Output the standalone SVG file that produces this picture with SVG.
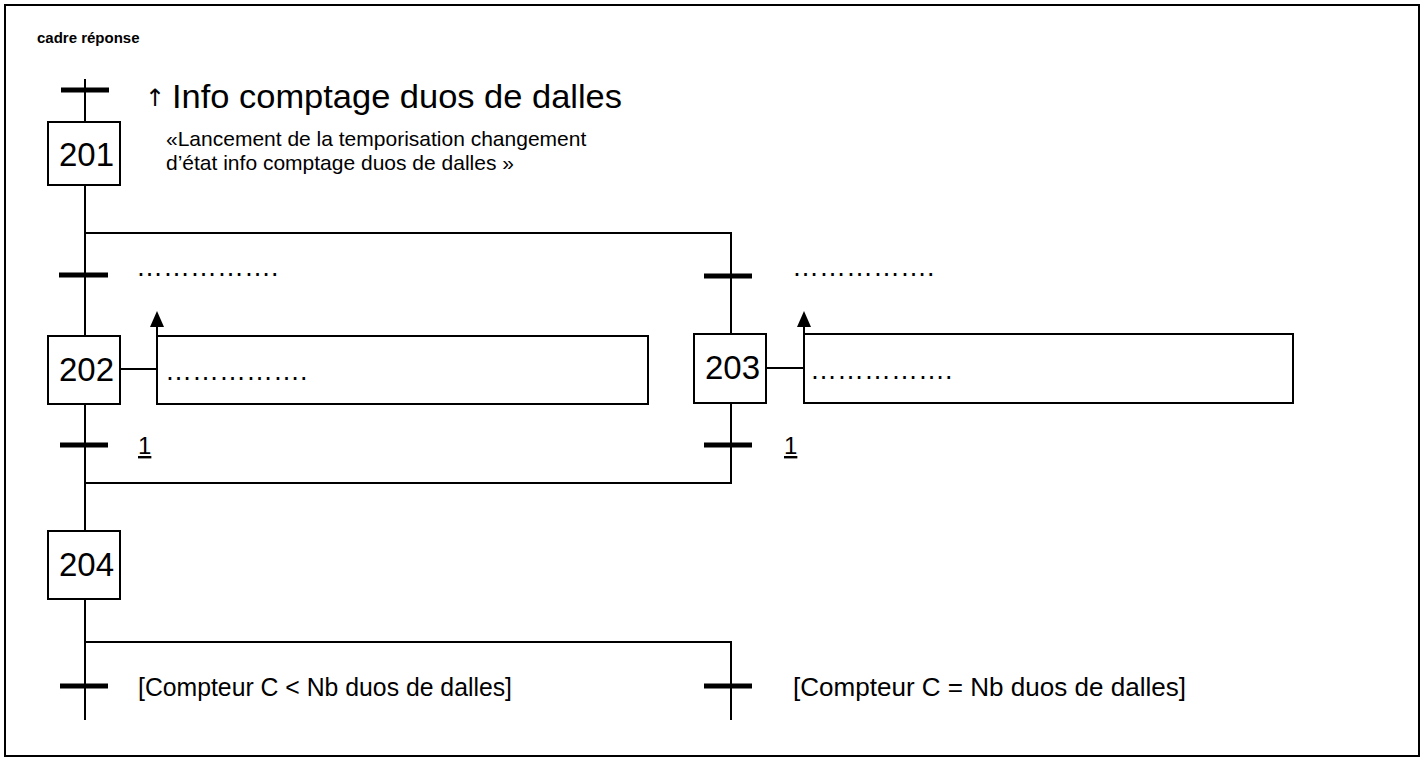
<svg xmlns="http://www.w3.org/2000/svg" width="1426" height="760" viewBox="0 0 1426 760">
<style>
text{font-family:"Liberation Sans",Arial,sans-serif;fill:#000}
.frame{fill:none;stroke:#000;stroke-width:2}
.step{fill:#fff;stroke:#000;stroke-width:2}
.act{fill:#fff;stroke:#000;stroke-width:2}
.ln{stroke:#000;stroke-width:2;fill:none}
.bar{stroke:#000;stroke-width:5}
.head{fill:#000}
.num{font-size:33px}
.lbl{font-size:24px}
.cond{font-size:25.5px}
.dots{font-size:27px}
</style>
<rect class="frame" x="5" y="5" width="1414" height="751"/>
<text x="37" y="43" style="font-size:15px;font-weight:bold">cadre réponse</text>
<g id="connectors">
<line class="ln" x1="85" y1="79" x2="85" y2="122"/>
<line class="ln" x1="85" y1="185" x2="85" y2="336"/>
<line class="ln" x1="85" y1="233" x2="731" y2="233"/>
<line class="ln" x1="731" y1="232" x2="731" y2="334"/>
<line class="ln" x1="85" y1="404" x2="85" y2="531"/>
<line class="ln" x1="731" y1="403" x2="731" y2="484"/>
<line class="ln" x1="85" y1="483" x2="731" y2="483"/>
<line class="ln" x1="85" y1="599" x2="85" y2="720"/>
<line class="ln" x1="85" y1="642" x2="731" y2="642"/>
<line class="ln" x1="731" y1="641" x2="731" y2="720"/>
<line class="ln" x1="121" y1="369" x2="157" y2="369"/>
<line class="ln" x1="767" y1="368" x2="804" y2="368"/>
<line class="ln" x1="157" y1="340" x2="157" y2="325"/>
<polygon class="head" points="157,311 150,327 164,327"/>
<line class="ln" x1="804" y1="338" x2="804" y2="325"/>
<polygon class="head" points="804,311 797,327 811,327"/>
</g>
<g id="t0">
<line class="bar" x1="61" y1="90" x2="109" y2="90"/>
<text x="145" y="106" style="font-size:24px;font-family:'DejaVu Sans',sans-serif">↑</text>
<text x="172" y="108" style="font-size:34px" textLength="450" lengthAdjust="spacingAndGlyphs">Info comptage duos de dalles</text>
</g>
<g id="s201">
<rect class="step" x="48" y="122" width="72" height="63"/>
<text class="num" x="59" y="166">201</text>
<text x="166" y="146" style="font-size:21px">«Lancement de la temporisation changement</text>
<text x="166" y="170" style="font-size:21px">d’état info comptage duos de dalles »</text>
</g>
<g id="t1">
<line class="bar" x1="59" y1="275" x2="108" y2="275"/>
<text class="dots" x="136" y="276">…………….</text>
</g>
<g id="t2">
<line class="bar" x1="704" y1="276" x2="752" y2="276"/>
<text class="dots" x="792" y="276">…………….</text>
</g>
<g id="s202">
<rect class="step" x="48" y="336" width="72" height="68"/>
<text class="num" x="59" y="381">202</text>
</g>
<g id="a202">
<rect class="act" x="157" y="336" width="491" height="68"/>
<text class="dots" x="165" y="380">…………….</text>
</g>
<g id="s203">
<rect class="step" x="694" y="334" width="72" height="69"/>
<text class="num" x="705" y="379">203</text>
</g>
<g id="a203">
<rect class="act" x="804" y="334" width="489" height="69"/>
<text class="dots" x="810" y="379">…………….</text>
</g>
<g id="t3">
<line class="bar" x1="60" y1="445" x2="108" y2="445"/>
<text class="lbl" x="138" y="454" text-decoration="underline">1</text>
</g>
<g id="t4">
<line class="bar" x1="704" y1="445" x2="752" y2="445"/>
<text class="lbl" x="784" y="454" text-decoration="underline">1</text>
</g>
<g id="s204">
<rect class="step" x="48" y="531" width="72" height="68"/>
<text class="num" x="59" y="576">204</text>
</g>
<g id="t5">
<line class="bar" x1="60" y1="686" x2="108" y2="686"/>
<text class="cond" x="138" y="696" textLength="374" lengthAdjust="spacingAndGlyphs">[Compteur C &lt; Nb duos de dalles]</text>
</g>
<g id="t6">
<line class="bar" x1="704" y1="686" x2="752" y2="686"/>
<text class="cond" x="793" y="696" textLength="393" lengthAdjust="spacingAndGlyphs">[Compteur C = Nb duos de dalles]</text>
</g>
</svg>
